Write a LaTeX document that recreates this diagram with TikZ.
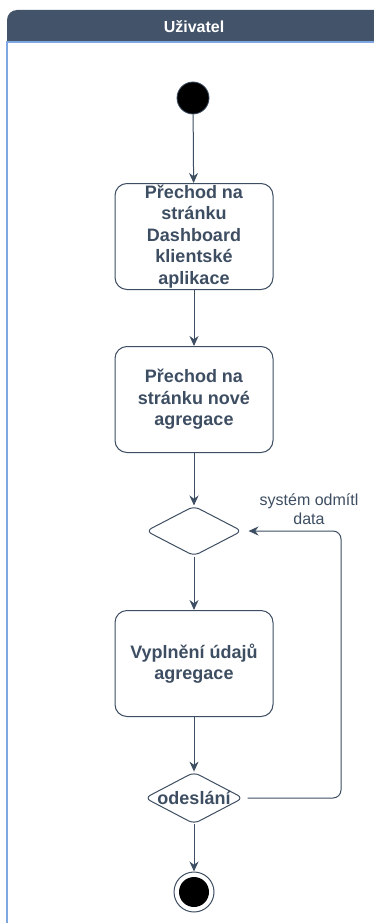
\documentclass[tikz,border=0pt]{standalone}
\usepackage{fontspec}
\setmainfont{Liberation Sans}
\usetikzlibrary{arrows.meta,shapes.geometric}
\definecolor{ink}{RGB}{62,78,98}
\definecolor{head}{RGB}{67,84,106}
\definecolor{lane}{RGB}{126,166,224}
\tikzset{
  every node/.style={font=\fontsize{18}{21.5}\selectfont\bfseries, text=ink},
  act/.style={draw=ink, line width=1pt, rounded corners=12pt, minimum width=158pt, minimum height=106pt, inner sep=1pt, align=center, fill=white},
  dec/.style={draw=ink, line width=1pt, diamond, aspect=1.9, minimum width=96pt, minimum height=50pt, inner sep=0pt, rounded corners=6pt, fill=white},
  flow/.style={draw=ink, line width=1pt, -{Stealth[length=10pt,width=9pt]}},
  lbl/.style={font=\fontsize{16}{19}\selectfont, align=center, text=ink}
}
\begin{document}
\begin{tikzpicture}[x=1pt,y=-1pt]
\useasboundingbox (0,0) rectangle (374,923);
% pool
\fill[head, rounded corners=10pt] (7,60) -- (7,10) -- (390,10) -- (390,60) -- cycle;
\fill[white] (0,42) rectangle (374,923);
\draw[lane, line width=1.5pt] (7,923) -- (7,42) -- (380,42);
\node[font=\fontsize{16}{19}\selectfont\bfseries, text=white] (title) at (194,27) {Uživatel};
% nodes
\node[circle, fill=black, draw=ink, line width=0.8pt, minimum size=32pt, inner sep=0pt] (start) at (193,98) {};
\node[act] (a1) at (194,236.5) {Přechod na\\stránku\\Dashboard\\klientské\\aplikace};
\node[act] (a2) at (194,399.5) {Přechod na\\stránku nové\\agregace};
\node[dec] (d1) at (194,531) {};
\node[act] (a3) at (194,663.5) {Vyplnění údajů\\agregace};
\node[dec] (d2) at (194,798) {odeslání};
\node[circle, draw=ink, line width=1pt, fill=white, minimum size=40pt, inner sep=0pt] (end) at (194,892) {};
\node[circle, fill=black, minimum size=30pt, inner sep=0pt] (endin) at (194,892) {};
\coordinate (c1) at (341,798);
\coordinate (c2) at (341,531);
\node[lbl] (l1) at (309,509) {systém odmítl\\data};
% edges
\draw[flow] (start) -- (a1);
\draw[flow] (a1) -- (a2);
\draw[flow] (a2) -- (d1);
\draw[flow] (d1) -- (a3);
\draw[flow] (a3) -- (d2);
\draw[flow] (d2) -- (end);
\draw[flow, rounded corners=8pt] (d2.east) ++(4,0) -- (c1) -- (c2) -- ([xshift=6pt]d1.east);
\end{tikzpicture}
\end{document}
